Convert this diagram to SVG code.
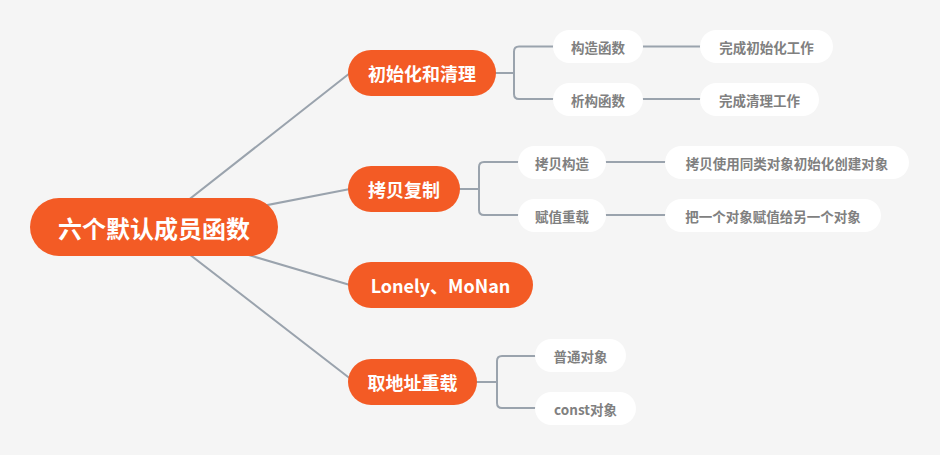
<svg xmlns="http://www.w3.org/2000/svg" width="940" height="455" viewBox="0 0 940 455">
<style>
.bg{fill:#f5f5f5}
.ln{fill:none;stroke:#9aa3ad;stroke-width:2;stroke-linecap:round;stroke-linejoin:round}
.main{fill:#f35b25}
.leaf{fill:#ffffff}
.t1{font-family:"Noto Sans CJK SC","Noto Sans",sans-serif;font-weight:bold;fill:#ffffff;text-anchor:middle;dominant-baseline:central}
.t2{font-family:"Noto Sans CJK SC","Noto Sans",sans-serif;font-weight:bold;fill:#808080;font-size:13.5px;text-anchor:middle;dominant-baseline:central}
</style>
<rect class="bg" x="0" y="0" width="940" height="455"/>
<g id="connectors">
<line class="ln" x1="154" y1="227" x2="350" y2="73"/>
<line class="ln" x1="154" y1="227" x2="350" y2="189"/>
<line class="ln" x1="154" y1="227" x2="350" y2="285"/>
<line class="ln" x1="154" y1="227" x2="352" y2="380"/>
<path class="ln" d="M496 73 H514 M553 46.5 H519 Q514 46.5 514 51.5 V94 Q514 99 519 99 H553"/>
<path class="ln" d="M643 46.5 H700 M643 99 H700"/>
<path class="ln" d="M460 189 H479 M518 162 H484 Q479 162 479 167 V210 Q479 215 484 215 H518"/>
<path class="ln" d="M606 162 H665 M606 215 H665"/>
<path class="ln" d="M477 382 H497 M535 356 H502 Q497 356 497 361 V403 Q497 408 502 408 H535"/>
</g>
<g id="root">
<rect class="main" x="30" y="198" width="248" height="58" rx="29"/>
<text class="t1" x="154" y="227" font-size="24">六个默认成员函数</text>
</g>
<g id="b1">
<rect class="main" x="348" y="50" width="148" height="46" rx="23"/>
<text class="t1" x="422" y="73" font-size="18">初始化和清理</text>
</g>
<g id="b2">
<rect class="main" x="348" y="166" width="112" height="46" rx="23"/>
<text class="t1" x="404" y="189" font-size="18">拷贝复制</text>
</g>
<g id="b3">
<rect class="main" x="348" y="262" width="185" height="46" rx="23"/>
<text class="t1" x="440.5" y="285" font-size="18">Lonely、MoNan</text>
</g>
<g id="b4">
<rect class="main" x="348" y="359" width="129" height="46" rx="23"/>
<text class="t1" x="412.5" y="382" font-size="18">取地址重载</text>
</g>
<g id="l1">
<rect class="leaf" x="553" y="30" width="90" height="33" rx="16.5"/>
<text class="t2" x="598" y="46.5">构造函数</text>
</g>
<g id="l1a">
<rect class="leaf" x="700" y="30" width="133" height="33" rx="16.5"/>
<text class="t2" x="766.5" y="46.5">完成初始化工作</text>
</g>
<g id="l2">
<rect class="leaf" x="553" y="83" width="90" height="33" rx="16.5"/>
<text class="t2" x="598" y="99.5">析构函数</text>
</g>
<g id="l2a">
<rect class="leaf" x="700" y="83" width="119" height="33" rx="16.5"/>
<text class="t2" x="759.5" y="99.5">完成清理工作</text>
</g>
<g id="l3">
<rect class="leaf" x="518" y="146" width="88" height="33" rx="16.5"/>
<text class="t2" x="562" y="162.5">拷贝构造</text>
</g>
<g id="l3a">
<rect class="leaf" x="665" y="146" width="244" height="33" rx="16.5"/>
<text class="t2" x="787" y="162.5">拷贝使用同类对象初始化创建对象</text>
</g>
<g id="l4">
<rect class="leaf" x="518" y="199" width="88" height="33" rx="16.5"/>
<text class="t2" x="562" y="215.5">赋值重载</text>
</g>
<g id="l4a">
<rect class="leaf" x="665" y="199" width="216" height="33" rx="16.5"/>
<text class="t2" x="773" y="215.5">把一个对象赋值给另一个对象</text>
</g>
<g id="l5">
<rect class="leaf" x="535" y="339" width="91" height="33" rx="16.5"/>
<text class="t2" x="580.5" y="355.5">普通对象</text>
</g>
<g id="l6">
<rect class="leaf" x="535" y="392" width="101" height="33" rx="16.5"/>
<text class="t2" x="585.5" y="408.5">const对象</text>
</g>
</svg>
